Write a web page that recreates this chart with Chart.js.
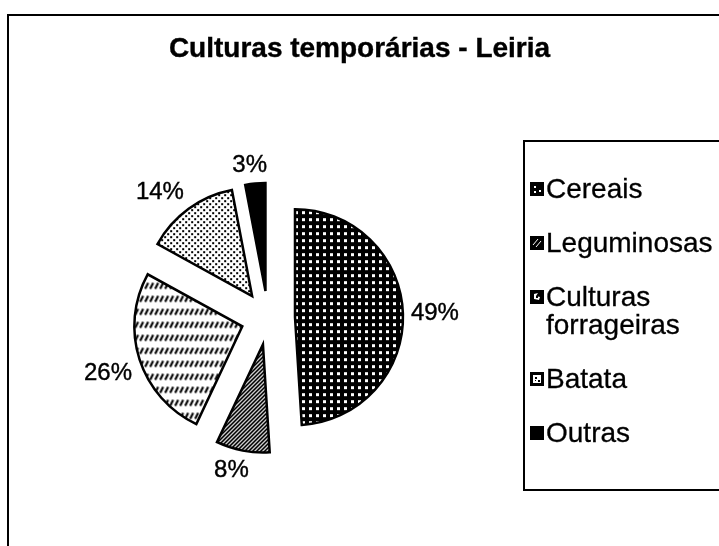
<!DOCTYPE html>
<html>
<head>
<meta charset="utf-8">
<script src="https://cdn.jsdelivr.net/npm/chart.js@4.4.1/dist/chart.umd.min.js"></script>
<style>
  html, body { margin:0; padding:0; background:#fff; overflow:hidden; }
  #wrap { position:relative; width:719px; height:546px; overflow:hidden; font-family:"Liberation Sans", Arial, sans-serif; color:#000; }
  #frame { position:absolute; left:7px; top:14px; width:800px; height:600px; border-left:2px solid #000; border-top:2px solid #000; }
  #c { position:absolute; left:0; top:0; }
  #title { position:absolute; left:0; top:29px; width:719px; text-align:center; font-weight:bold; font-size:28px; line-height:38px; -webkit-text-stroke:0.4px #000; }
  #legend { position:absolute; left:523px; top:140px; width:300px; height:351px; border:2px solid #000; box-sizing:border-box; background:#fff;
            display:flex; flex-direction:column; gap:26px; padding-top:33px; padding-left:5px; }
  .item { display:flex; align-items:flex-start; font-size:28px; line-height:28px; -webkit-text-stroke:0.3px #000; }
  .item canvas { margin-top:7px; margin-right:2px; flex:none; }
  .item span { width:178px; }
</style>
</head>
<body>
<div id="wrap">
  <div id="frame"></div>
  <canvas id="c" width="719" height="546"></canvas>
  <div id="title"></div>
  <div id="legend"></div>
</div>
<script>
// ---- data ----
const chartTitle = "Culturas temporárias - Leiria";
const categories = ["Cereais", "Leguminosas", "Culturas forrageiras", "Batata", "Outras"];
const values = [49, 8, 26, 14, 3];

// ---- styles ----
const fillKinds = ["cereais", "leguminosas", "forrageiras", "batata", "solid"];
const EXPLODE = 27;
const LABEL_GAP = 8;

function makePatternCanvas(kind) {
  const c = document.createElement('canvas');
  const x = c.getContext('2d');
  if (kind === 'cereais') {
    c.width = 7; c.height = 7;
    x.fillStyle = '#000'; x.fillRect(0, 0, 7, 7);
    x.fillStyle = '#fff'; x.fillRect(2, 2, 3, 3);
  } else if (kind === 'leguminosas') {
    c.width = 4; c.height = 4;
    x.fillStyle = '#000'; x.fillRect(0, 0, 4, 4);
    for (let i = 0; i < 4; i++) for (let j = 0; j < 4; j++) {
      const m = (i + j) % 4;
      if (m === 3) { x.fillStyle = '#fff'; x.fillRect(i, j, 1, 1); }
      else if (m === 0) { x.fillStyle = '#888'; x.fillRect(i, j, 1, 1); }
    }
  } else if (kind === 'forrageiras') {
    c.width = 5; c.height = 13;
    x.fillStyle = '#fff'; x.fillRect(0, 0, 5, 13);
    x.strokeStyle = '#000'; x.lineWidth = 2.1;
    x.beginPath(); x.moveTo(0.8, 7.5); x.lineTo(3.8, 1.5); x.stroke();
  } else if (kind === 'batata') {
    c.width = 6; c.height = 6;
    x.fillStyle = '#fff'; x.fillRect(0, 0, 6, 6);
    x.fillStyle = '#000'; x.fillRect(0, 0, 2, 2); x.fillRect(3, 3, 2, 2);
  } else {
    c.width = 2; c.height = 2;
    x.fillStyle = '#000'; x.fillRect(0, 0, 2, 2);
  }
  return c;
}

// small dark legend key in the style of the reference
function drawSwatch(sx, kind) {
  sx.fillStyle = '#000';
  sx.fillRect(0, 0, 14, 14);
  sx.fillStyle = '#fff';
  sx.strokeStyle = '#fff';
  if (kind === 'cereais') {
    sx.fillRect(4, 4, 2, 2); sx.fillRect(9, 8, 2, 2); sx.fillRect(4, 9, 2, 2);
  } else if (kind === 'leguminosas') {
    sx.lineWidth = 1;
    sx.beginPath(); sx.moveTo(3, 9); sx.lineTo(8, 3); sx.moveTo(6, 11); sx.lineTo(11, 5); sx.stroke();
  } else if (kind === 'forrageiras') {
    sx.beginPath(); sx.moveTo(4, 4); sx.lineTo(8, 3); sx.lineTo(6, 6); sx.lineTo(10, 7); sx.lineTo(9, 10); sx.lineTo(4, 9); sx.closePath(); sx.fill();
    sx.fillStyle = '#000'; sx.fillRect(6, 6, 2, 2);
  } else if (kind === 'batata') {
    sx.fillRect(3, 3, 8, 8);
    sx.fillStyle = '#000'; sx.fillRect(5, 5, 2, 2); sx.fillRect(8, 8, 2, 2); sx.fillRect(5, 8, 1, 1);
  }
}

const canvas = document.getElementById('c');
const ctx = canvas.getContext('2d');
const patterns = fillKinds.map(k => ctx.createPattern(makePatternCanvas(k), 'repeat'));

document.getElementById('title').textContent = chartTitle;

// legend (HTML)
const legend = document.getElementById('legend');
categories.forEach((name, i) => {
  const item = document.createElement('div');
  item.className = 'item';
  const sw = document.createElement('canvas');
  sw.width = 14; sw.height = 14;
  drawSwatch(sw.getContext('2d'), fillKinds[i]);
  const span = document.createElement('span');
  span.textContent = name;
  item.appendChild(sw); item.appendChild(span);
  legend.appendChild(item);
});

// explode slices: draw each arc element translated along its bisector
const explodePlugin = {
  id: 'explode',
  beforeDatasetDraw(chart, args) {
    const c = chart.ctx;
    args.meta.data.forEach(arc => {
      const mid = (arc.startAngle + arc.endAngle) / 2;
      c.save();
      c.translate(Math.cos(mid) * EXPLODE, Math.sin(mid) * EXPLODE);
      arc.draw(c);
      c.restore();
    });
    return false;
  }
};

// percentage labels outside each slice
const labelPlugin = {
  id: 'pctLabels',
  afterDatasetsDraw(chart) {
    const c = chart.ctx;
    const meta = chart.getDatasetMeta(0);
    const data = chart.data.datasets[0].data;
    const total = data.reduce((a, b) => a + b, 0);
    c.save();
    c.font = '24px "Liberation Sans", Arial, sans-serif';
    c.fillStyle = '#000';
    c.strokeStyle = '#000';
    c.lineWidth = 0.4;
    c.textAlign = 'center';
    c.textBaseline = 'middle';
    const clamp = v => Math.max(-1, Math.min(1, v));
    meta.data.forEach((arc, i) => {
      const txt = Math.round(data[i] / total * 100) + '%';
      const w = c.measureText(txt).width;
      const h = 22;
      const mid = (arc.startAngle + arc.endAngle) / 2;
      const cs = Math.cos(mid), sn = Math.sin(mid);
      const d = EXPLODE + arc.outerRadius + LABEL_GAP;
      const px = arc.x + cs * d + w / 2 * clamp(cs * 3);
      const py = arc.y + sn * d + h / 2 * clamp(sn * 3) + 1;
      c.fillText(txt, px, py);
      c.strokeText(txt, px, py);
    });
    c.restore();
  }
};

new Chart(ctx, {
  type: 'pie',
  data: {
    labels: categories,
    datasets: [{
      data: values,
      backgroundColor: patterns,
      borderColor: '#000',
      borderWidth: 2.5,
      borderJoinStyle: 'miter',
      radius: 108,
      clip: false
    }]
  },
  options: {
    responsive: false,
    animation: false,
    events: [],
    layout: { padding: { left: 20, right: 203, top: 100, bottom: 10 } },
    plugins: { legend: { display: false }, tooltip: { enabled: false }, title: { display: false } }
  },
  plugins: [explodePlugin, labelPlugin]
});
</script>
</body>
</html>
